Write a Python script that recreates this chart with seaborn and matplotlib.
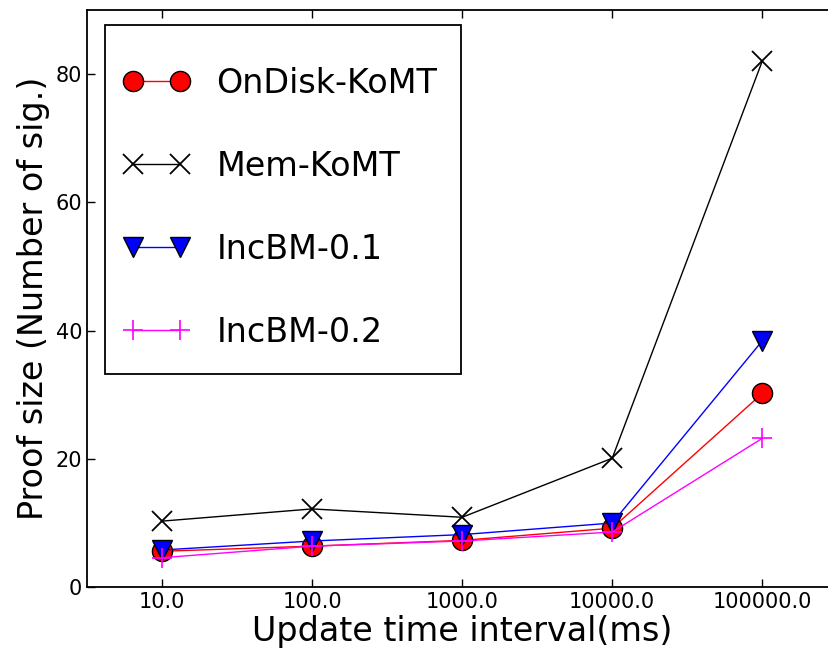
import pandas as pd
import matplotlib
matplotlib.use('Agg')
import matplotlib.pyplot as plt
from matplotlib.patches import Rectangle
import seaborn as sns

# update intervals (ms) and proof sizes
intervals = [10.0, 100.0, 1000.0, 10000.0, 100000.0]
ondisk_komt = [5.6, 6.4, 7.3, 9.2, 30.2]
mem_komt = [10.3, 12.2, 10.9, 20.1, 82.0]
incbm_01 = [5.8, 7.2, 8.2, 10.0, 38.4]
incbm_02 = [4.6, 6.4, 7.2, 8.6, 23.2]

series = [
    ('OnDisk-KoMT', ondisk_komt, dict(color='#ff0000', marker='o', markerfacecolor='#ff0000',
                                      markeredgecolor='black', markeredgewidth=1.0)),
    ('Mem-KoMT', mem_komt, dict(color='black', marker='x', markeredgecolor='black',
                                markeredgewidth=1.3)),
    ('IncBM-0.1', incbm_01, dict(color='#0000ff', marker='v', markerfacecolor='#0000ff',
                                 markeredgecolor='black', markeredgewidth=1.0)),
    ('IncBM-0.2', incbm_02, dict(color='#ff00ff', marker='+', markeredgecolor='#ff00ff',
                                 markeredgewidth=1.2)),
]

rows = []
for name, vals, _ in series:
    for x, y in zip(intervals, vals):
        rows.append({'interval': x, 'size': y, 'method': name})
df = pd.DataFrame(rows)

sns.set_style('ticks')
plt.rcParams['font.family'] = ['DejaVu Sans']
plt.rcParams['text.color'] = 'black'
plt.rcParams['axes.labelcolor'] = 'black'
plt.rcParams['xtick.direction'] = 'in'
plt.rcParams['ytick.direction'] = 'in'

fig = plt.figure(figsize=(8.29, 6.51), dpi=100)
ax = fig.add_axes([0.105, 0.098, 0.905, 0.887])

for name, _, style in series:
    sns.lineplot(data=df[df['method'] == name], x='interval', y='size', ax=ax,
                 label=name, linewidth=1.0, markersize=14.5, **style)

ax.set_xscale('log')
ax.set_xlim(10 ** 0.5, 10 ** 5.5)
ax.set_ylim(0, 90)
ax.set_xticks(intervals)
ax.set_xticklabels([f'{v:.1f}' for v in intervals])
ax.xaxis.set_minor_locator(matplotlib.ticker.NullLocator())
ax.set_yticks([0, 20, 40, 60, 80])

ax.tick_params(axis='both', which='major', labelsize=15, length=6, width=1,
               top=True, right=True, color='black', labelcolor='black')
for sp in ax.spines.values():
    sp.set_visible(True)
    sp.set_linewidth(1.3)
    sp.set_color('black')

ax.set_xlabel('Update time interval(ms)', fontsize=24, labelpad=2)
ax.set_ylabel('Proof size (Number of sig.)', fontsize=24, labelpad=4)

# legend box drawn separately so its padding can match the original
box = Rectangle((0.024, 0.369), 0.4745, 0.605, transform=ax.transAxes,
                facecolor='white', edgecolor='black', linewidth=1.3, zorder=4)
ax.add_patch(box)
leg = ax.legend(loc='upper left', bbox_to_anchor=(0.008, 0.953), fontsize=24, numpoints=2,
                labelspacing=1.5, handlelength=2.0, handletextpad=0.8, borderpad=0.9,
                borderaxespad=0.0, frameon=False)
leg.set_zorder(5)

plt.savefig('out.png', dpi=100)
